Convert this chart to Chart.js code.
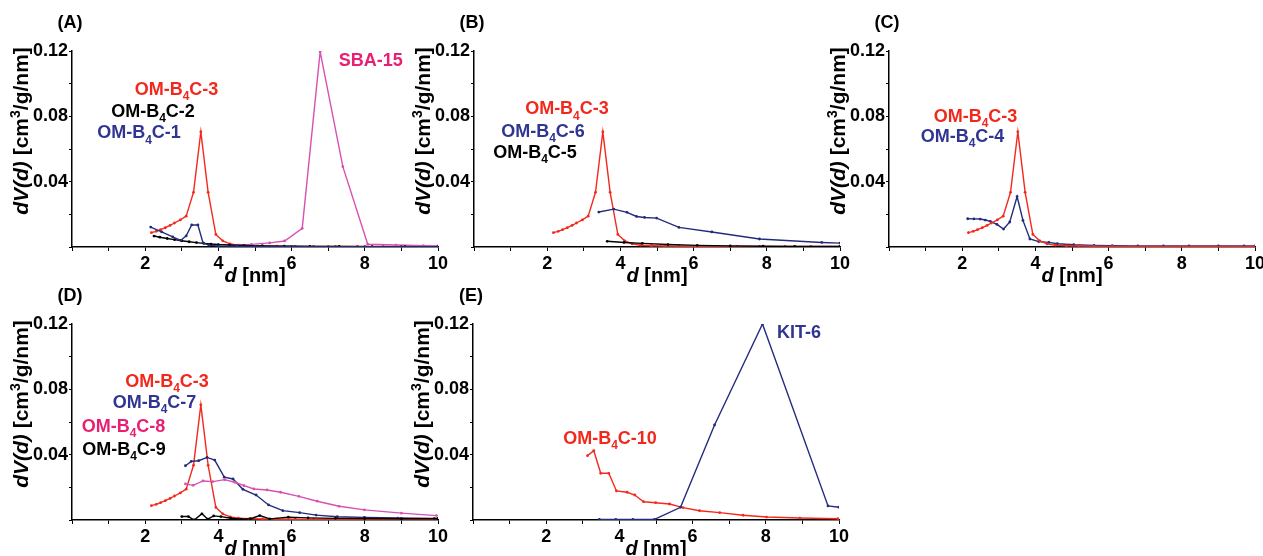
<!DOCTYPE html>
<html>
<head>
<meta charset="utf-8">
<script src="https://cdn.jsdelivr.net/npm/chart.js@4/dist/chart.umd.min.js"></script>
<style>
  html, body { margin: 0; padding: 0; background: #fff; overflow: hidden; }
  #wrap { position: relative; width: 1263px; height: 556px; overflow: hidden; }
  #wrap canvas { position: absolute; }
</style>
</head>
<body>
<div id="wrap"></div>
<script>
// pore size distributions, d [nm] vs dV(d) [cm3/g/nm]
const dB4C3 = [2.17, 2.30, 2.42, 2.55, 2.68, 2.80, 2.96, 3.12, 3.32, 3.52, 3.72, 3.93, 4.12, 4.32, 4.55, 4.85, 5.2, 5.6, 6.1, 6.6, 7.2, 7.8, 8.5, 9.2, 10.0];
const vB4C3 = [0.0088, 0.0096, 0.0106, 0.0118, 0.0132, 0.0147, 0.0166, 0.0189, 0.0335, 0.0705, 0.0335, 0.0077, 0.0038, 0.0019, 0.0011, 0.0008, 0.0006, 0.0005, 0.0004, 0.0004, 0.0003, 0.0003, 0.0003, 0.0003, 0.0003];

const dB4C1 = [2.15, 2.45, 2.75, 2.97, 3.12, 3.27, 3.44, 3.58, 3.75, 4.0, 4.5, 5.0, 6.0, 7.0, 8.0, 9.0, 10.0];
const vB4C1 = [0.0122, 0.0092, 0.0062, 0.0040, 0.0068, 0.0135, 0.0135, 0.0025, 0.0010, 0.0007, 0.0005, 0.0004, 0.0003, 0.0002, 0.0002, 0.0002, 0.0002];

const dB4C2 = [2.24, 2.4, 2.6, 2.8, 3.0, 3.2, 3.4, 3.6, 3.8, 4.0, 4.3, 4.7, 5.2, 5.8, 6.5, 7.3, 8.2, 9.1, 10.0];
const vB4C2 = [0.0067, 0.0060, 0.0052, 0.0045, 0.0038, 0.0032, 0.0027, 0.0022, 0.0018, 0.0015, 0.0012, 0.0009, 0.0007, 0.0005, 0.0004, 0.0003, 0.0002, 0.0002, 0.0001];

const dSBA = [4.3, 4.9, 5.4, 5.81, 6.29, 6.78, 7.40, 8.08, 8.85, 9.6, 10.0];
const vSBA = [0.0012, 0.0016, 0.0025, 0.0037, 0.0114, 0.1196, 0.0492, 0.0017, 0.0012, 0.0008, 0.0006];

const dB4C6 = [3.41, 3.82, 4.18, 4.44, 4.66, 4.99, 5.60, 6.50, 7.80, 9.50, 10.0];
const vB4C6 = [0.0214, 0.0232, 0.0212, 0.0187, 0.0181, 0.0177, 0.0120, 0.0092, 0.0049, 0.0028, 0.0024];

const dB4C5 = [3.64, 4.1, 4.6, 5.3, 6.1, 7.0, 7.9, 8.76, 10.0];
const vB4C5 = [0.0035, 0.0028, 0.0022, 0.0015, 0.0010, 0.0007, 0.0005, 0.0004, 0.0004];

const dB4C4 = [2.15, 2.32, 2.49, 2.63, 2.77, 2.95, 3.13, 3.30, 3.50, 3.66, 3.85, 4.09, 4.37, 4.6, 5.05, 5.6, 6.1, 6.8, 7.5, 8.2, 9.0, 9.7, 10.0];
const vB4C4 = [0.0173, 0.0172, 0.0171, 0.0165, 0.0157, 0.0138, 0.0110, 0.0153, 0.0309, 0.0163, 0.0049, 0.0033, 0.0028, 0.0020, 0.0014, 0.0010, 0.0008, 0.0007, 0.0006, 0.0006, 0.0006, 0.0006, 0.0006];

const dB4C7 = [3.10, 3.26, 3.46, 3.69, 3.90, 4.16, 4.40, 4.67, 5.03, 5.37, 5.76, 6.22, 6.67, 7.25, 7.99, 8.9, 9.9, 10.0];
const vB4C7 = [0.0332, 0.0359, 0.0363, 0.0383, 0.0367, 0.0262, 0.0251, 0.0188, 0.0153, 0.0092, 0.0057, 0.0045, 0.0030, 0.0020, 0.0016, 0.0012, 0.0010, 0.0010];

const dB4C8 = [3.10, 3.31, 3.58, 3.85, 4.17, 4.45, 4.70, 4.97, 5.33, 5.70, 6.20, 6.70, 7.30, 7.99, 9.0, 9.96];
const vB4C8 = [0.0221, 0.0212, 0.0239, 0.0235, 0.0247, 0.0231, 0.0210, 0.0190, 0.0184, 0.0170, 0.0145, 0.0115, 0.0084, 0.0062, 0.0042, 0.0027];

const dB4C9 = [3.00, 3.18, 3.34, 3.55, 3.71, 3.87, 4.07, 4.34, 4.62, 4.88, 5.13, 5.40, 5.91, 6.45, 7.2, 8.0, 9.0, 10.0];
const vB4C9 = [0.0021, 0.0021, 0.0000, 0.0038, 0.0005, 0.0025, 0.0021, 0.0011, 0.0005, 0.0008, 0.0027, 0.0007, 0.0017, 0.0013, 0.0010, 0.0009, 0.0008, 0.0008];

const dKIT = [3.45, 3.90, 4.37, 4.96, 5.67, 6.60, 7.91, 9.70, 10.0];
const vKIT = [0.0003, 0.0003, 0.0003, 0.0004, 0.0078, 0.0582, 0.1200, 0.0086, 0.0078];

const dB4C10 = [3.13, 3.30, 3.49, 3.71, 3.92, 4.21, 4.42, 4.66, 4.99, 5.37, 5.74, 6.19, 6.74, 7.38, 8.02, 8.93, 9.97];
const vB4C10 = [0.0394, 0.0424, 0.0286, 0.0286, 0.0178, 0.0170, 0.0153, 0.0112, 0.0106, 0.0098, 0.0076, 0.0057, 0.0045, 0.0029, 0.0018, 0.0012, 0.0008];

const xTicks = [2, 4, 6, 8, 10];
const yTicks = [0.04, 0.08, 0.12];

const FONT = '"Liberation Sans", Arial, Helvetica, sans-serif';
const RED = '#f3291e';
const NAVY = '#232c7c';
const BLACK = '#000000';
const PINK = '#d851b2';
const RED_T = '#f2281c';
const NAVY_T = '#2f3590';
const PINK_T = '#e81f72';

// chart area corners of the five panels (left, top); area is 366 x 196 px
const panels = [
  { tag: '(A)', left: 72, top: 51,
    series: [[dB4C1, vB4C1, NAVY], [dB4C2, vB4C2, BLACK], [dSBA, vSBA, PINK], [dB4C3, vB4C3, RED]],
    notes: [['OM-B_{4}C-3', RED_T, 2.855, 0.0968], ['OM-B_{4}C-2', BLACK, 2.213, 0.0833],
            ['OM-B_{4}C-1', NAVY_T, 1.83, 0.0704], ['SBA-15', PINK_T, 8.16, 0.1145]] },
  { tag: '(B)', left: 474, top: 51,
    series: [[dB4C5, vB4C5, BLACK], [dB4C6, vB4C6, NAVY], [dB4C3, vB4C3, RED]],
    notes: [['OM-B_{4}C-3', RED_T, 2.54, 0.0851], ['OM-B_{4}C-6', NAVY_T, 1.885, 0.0716],
            ['OM-B_{4}C-5', BLACK, 1.667, 0.0582]] },
  { tag: '(C)', left: 889, top: 51,
    series: [[dB4C3, vB4C3, RED], [dB4C4, vB4C4, NAVY]],
    notes: [['OM-B_{4}C-3', RED_T, 2.363, 0.0808], ['OM-B_{4}C-4', NAVY_T, 2.008, 0.068]] },
  { tag: '(D)', left: 72, top: 324,
    series: [[dB4C9, vB4C9, BLACK], [dB4C8, vB4C8, PINK], [dB4C7, vB4C7, NAVY], [dB4C3, vB4C3, RED]],
    notes: [['OM-B_{4}C-3', RED_T, 2.596, 0.0857], ['OM-B_{4}C-7', NAVY_T, 2.254, 0.0723],
            ['OM-B_{4}C-8', PINK_T, 1.407, 0.0576], ['OM-B_{4}C-9', BLACK, 1.42, 0.0435]] },
  { tag: '(E)', left: 473, top: 324,
    series: [[dKIT, vKIT, NAVY], [dB4C10, vB4C10, RED]],
    notes: [['OM-B_{4}C-10', RED_T, 3.743, 0.0508], ['KIT-6', NAVY_T, 8.907, 0.1151]] }
];

// text with _{sub}, ^{sup} and *italic* parts
function parseRich(str) {
  return str.split(/(_\{[^}]*\}|\^\{[^}]*\}|\*[^*]*\*)/).filter(s => s).map(s => {
    if (s.startsWith('_{')) return { t: s.slice(2, -1), mode: 'sub' };
    if (s.startsWith('^{')) return { t: s.slice(2, -1), mode: 'sup' };
    if (s.startsWith('*')) return { t: s.slice(1, -1), mode: 'i' };
    return { t: s, mode: '' };
  });
}

function partFont(p, size) {
  const small = p.mode === 'sub' || p.mode === 'sup';
  return (p.mode === 'i' ? 'italic ' : '') + 'bold ' + Math.round(small ? size * 0.66 : size) + 'px ' + FONT;
}

function drawRich(ctx, str, x, y, color, size) {
  const parts = parseRich(str);
  let total = 0;
  parts.forEach(p => { ctx.font = partFont(p, size); p.w = ctx.measureText(p.t).width; total += p.w; });
  let cx = x - total / 2;
  ctx.fillStyle = color;
  ctx.textAlign = 'left';
  ctx.textBaseline = 'alphabetic';
  const base = y + size * 0.36;
  parts.forEach(p => {
    ctx.font = partFont(p, size);
    let dy = 0;
    if (p.mode === 'sub') dy = size * 0.28;
    if (p.mode === 'sup') dy = -size * 0.36;
    ctx.fillText(p.t, cx, base + dy);
    cx += p.w;
  });
}

const textPlugin = {
  id: 'panelText',
  afterDatasetsDraw(chart, args, opts) {
    const ctx = chart.ctx;
    const a = chart.chartArea;
    const xs = chart.scales.x, ys = chart.scales.y;
    ctx.save();
    drawRich(ctx, opts.tag, a.left - 2, a.top - 29, '#000', 18);
    drawRich(ctx, '*d* [nm]', (a.left + a.right) / 2, a.bottom + 28, '#000', 20);
    ctx.translate(a.left - 52, a.top + 80);
    ctx.rotate(-Math.PI / 2);
    drawRich(ctx, '*dV(d)* [cm^{3}/g/nm]', 0, 0, '#000', 21);
    ctx.restore();
    ctx.save();
    opts.notes.forEach(n => {
      drawRich(ctx, n[0], xs.getPixelForValue(n[2]), ys.getPixelForValue(n[3]), n[1], 18);
    });
    ctx.restore();
  }
};

const wrap = document.getElementById('wrap');
const CW = 460, CH = 300;

panels.forEach(p => {
  const cv = document.createElement('canvas');
  cv.width = CW; cv.height = CH;
  cv.style.width = CW + 'px'; cv.style.height = CH + 'px';
  cv.style.left = (p.left - 72) + 'px';
  cv.style.top = (p.top - 51) + 'px';
  wrap.appendChild(cv);

  const datasets = p.series.map(s => ({
    data: s[0].map((d, i) => ({ x: d, y: s[1][i] })),
    borderColor: s[2],
    backgroundColor: s[2],
    borderWidth: 1.4,
    pointRadius: 1.4,
    pointBorderWidth: 0,
    tension: 0
  }));

  new Chart(cv.getContext('2d'), {
    type: 'line',
    data: { datasets },
    plugins: [textPlugin],
    options: {
      responsive: false,
      animation: false,
      devicePixelRatio: 1,
      layout: { padding: { left: 0, top: 51, right: 22, bottom: 25 } },
      plugins: {
        legend: { display: false },
        tooltip: { enabled: false },
        panelText: { tag: p.tag, notes: p.notes }
      },
      scales: {
        x: {
          type: 'linear', min: 0, max: 10,
          afterFit: s => { s.height = 28; },
          ticks: {
            stepSize: 1, autoSkip: false, maxRotation: 0, padding: 2, color: '#000',
            font: { family: FONT, size: 18, weight: 'bold' },
            callback: v => xTicks.includes(v) ? String(v) : ''
          },
          grid: { drawOnChartArea: false, tickLength: 4, color: '#000', lineWidth: 1 },
          border: { color: '#000', width: 1.5 }
        },
        y: {
          type: 'linear', min: 0, max: 0.12,
          afterFit: s => { s.width = 72; },
          ticks: {
            stepSize: 0.02, padding: 1, color: '#000',
            font: { family: FONT, size: 18, weight: 'bold' },
            callback: v => {
              const hit = yTicks.find(t => Math.abs(t - v) < 1e-6);
              return hit ? hit.toFixed(2) : '';
            }
          },
          grid: { drawOnChartArea: false, tickLength: 3, color: '#000', lineWidth: 1 },
          border: { color: '#000', width: 1.5 }
        }
      }
    }
  });
});
</script>
</body>
</html>
